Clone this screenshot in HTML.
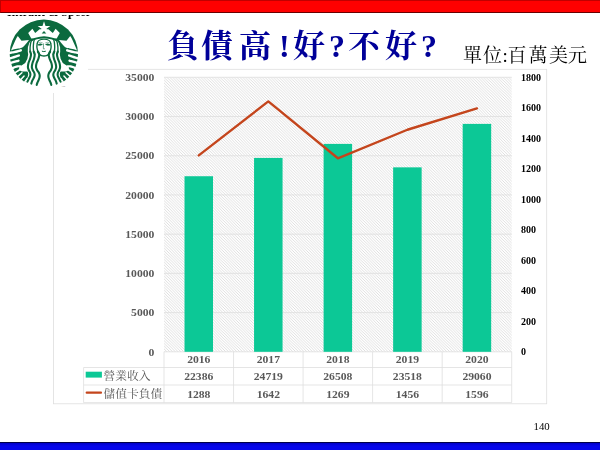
<!DOCTYPE html>
<html><head><meta charset="utf-8"><title>slide</title>
<style>
html,body{margin:0;padding:0;background:#fff;}
body{width:600px;height:450px;overflow:hidden;position:relative;font-family:"Liberation Serif",serif;}
#top{position:absolute;left:0;top:0;width:600px;height:12.6px;background:#fe0000;box-sizing:border-box;border-top:1.2px solid #c00000;border-bottom:1.2px solid #6a0000;border-left:0.6px solid #c00000;}
#bot{position:absolute;left:0;top:441.7px;width:600px;height:9px;background:linear-gradient(#0000c8,#0606ea 3px,#0606ea);box-sizing:border-box;border-top:1.5px solid #000048;}
#clip{position:absolute;left:0;top:14.8px;width:100px;height:6px;overflow:hidden;}
#clip span{position:absolute;left:7px;top:-9.8px;font:bold 12px "Liberation Serif",serif;color:#000;white-space:nowrap;letter-spacing:0.1px;}
svg text{font-family:"Liberation Serif",serif;}
#main{position:absolute;left:0;top:0;will-change:transform;}
#logobg{position:absolute;left:0;top:17px;width:87.6px;height:76px;background:#fff;}
</style></head><body>
<svg id="main" width="600" height="450" viewBox="0 0 600 450">
<rect x="53.4" y="69.3" width="493.30000000000007" height="334.5" fill="#fff" stroke="#dedede" stroke-width="0.8"/>
<defs><pattern id="h" width="2.8" height="2.8" patternUnits="userSpaceOnUse"><rect width="2.8" height="2.8" fill="#fff"/><path d="M-0.7,-0.7 L3.5,3.5 M-0.7,2.1 L0.7,3.5 M2.1,-0.7 L3.5,0.7" stroke="#dcdcdc" stroke-width="0.9"/></pattern></defs>
<rect x="164.0" y="77.3" width="347.7" height="274.5" fill="url(#h)"/>
<line x1="164.0" x2="511.7" y1="351.80" y2="351.80" stroke="#dedede" stroke-width="0.8"/>
<line x1="164.0" x2="511.7" y1="312.59" y2="312.59" stroke="#dedede" stroke-width="0.8"/>
<line x1="164.0" x2="511.7" y1="273.37" y2="273.37" stroke="#dedede" stroke-width="0.8"/>
<line x1="164.0" x2="511.7" y1="234.16" y2="234.16" stroke="#dedede" stroke-width="0.8"/>
<line x1="164.0" x2="511.7" y1="194.94" y2="194.94" stroke="#dedede" stroke-width="0.8"/>
<line x1="164.0" x2="511.7" y1="155.73" y2="155.73" stroke="#dedede" stroke-width="0.8"/>
<line x1="164.0" x2="511.7" y1="116.51" y2="116.51" stroke="#dedede" stroke-width="0.8"/>
<line x1="164.0" x2="511.7" y1="77.30" y2="77.30" stroke="#dedede" stroke-width="0.8"/>
<rect x="184.52" y="176.23" width="28.5" height="175.57" fill="#0cc896"/>
<rect x="254.06" y="157.93" width="28.5" height="193.87" fill="#0cc896"/>
<rect x="323.60" y="143.90" width="28.5" height="207.90" fill="#0cc896"/>
<rect x="393.14" y="167.35" width="28.5" height="184.45" fill="#0cc896"/>
<rect x="462.68" y="123.89" width="28.5" height="227.91" fill="#0cc896"/>
<polyline points="198.77,155.38 268.31,101.40 337.85,158.28 407.39,129.76 476.93,108.41" fill="none" stroke="#c4451c" stroke-width="2.4" stroke-linejoin="round" stroke-linecap="round"/>
<line x1="83.6" x2="511.7" y1="367.5" y2="367.5" stroke="#dedede" stroke-width="0.8"/>
<line x1="83.6" x2="511.7" y1="385.0" y2="385.0" stroke="#dedede" stroke-width="0.8"/>
<line x1="83.6" x2="511.7" y1="402.6" y2="402.6" stroke="#dedede" stroke-width="0.8"/>
<line x1="83.6" x2="83.6" y1="367.5" y2="402.6" stroke="#dedede" stroke-width="0.8"/>
<line x1="164.00" x2="164.00" y1="351.8" y2="402.6" stroke="#dedede" stroke-width="0.8"/>
<line x1="233.54" x2="233.54" y1="351.8" y2="402.6" stroke="#dedede" stroke-width="0.8"/>
<line x1="303.08" x2="303.08" y1="351.8" y2="402.6" stroke="#dedede" stroke-width="0.8"/>
<line x1="372.62" x2="372.62" y1="351.8" y2="402.6" stroke="#dedede" stroke-width="0.8"/>
<line x1="442.16" x2="442.16" y1="351.8" y2="402.6" stroke="#dedede" stroke-width="0.8"/>
<line x1="511.70" x2="511.70" y1="351.8" y2="402.6" stroke="#dedede" stroke-width="0.8"/>
<rect x="85.7" y="371.7" width="16.2" height="5.9" fill="#0cc896"/>
<line x1="86.7" x2="101.0" y1="392.7" y2="392.7" stroke="#c4451c" stroke-width="2.2" stroke-linecap="round"/>
<text transform="translate(154.4 355.55) scale(1.08 1)" font-size="10.8" fill="#595959" text-anchor="end" font-weight="bold">0</text>
<text transform="translate(154.4 316.34) scale(1.08 1)" font-size="10.8" fill="#595959" text-anchor="end" font-weight="bold">5000</text>
<text transform="translate(154.4 277.12) scale(1.08 1)" font-size="10.8" fill="#595959" text-anchor="end" font-weight="bold">10000</text>
<text transform="translate(154.4 237.91) scale(1.08 1)" font-size="10.8" fill="#595959" text-anchor="end" font-weight="bold">15000</text>
<text transform="translate(154.4 198.69) scale(1.08 1)" font-size="10.8" fill="#595959" text-anchor="end" font-weight="bold">20000</text>
<text transform="translate(154.4 159.48) scale(1.08 1)" font-size="10.8" fill="#595959" text-anchor="end" font-weight="bold">25000</text>
<text transform="translate(154.4 120.26) scale(1.08 1)" font-size="10.8" fill="#595959" text-anchor="end" font-weight="bold">30000</text>
<text transform="translate(154.4 81.05) scale(1.08 1)" font-size="10.8" fill="#595959" text-anchor="end" font-weight="bold">35000</text>
<text x="521" y="355.4" font-size="10" fill="#000" text-anchor="start" font-weight="bold">0</text>
<text x="521" y="324.9" font-size="10" fill="#000" text-anchor="start" font-weight="bold">200</text>
<text x="521" y="294.4" font-size="10" fill="#000" text-anchor="start" font-weight="bold">400</text>
<text x="521" y="263.9" font-size="10" fill="#000" text-anchor="start" font-weight="bold">600</text>
<text x="521" y="233.4" font-size="10" fill="#000" text-anchor="start" font-weight="bold">800</text>
<text x="521" y="202.9" font-size="10" fill="#000" text-anchor="start" font-weight="bold">1000</text>
<text x="521" y="172.4" font-size="10" fill="#000" text-anchor="start" font-weight="bold">1200</text>
<text x="521" y="141.9" font-size="10" fill="#000" text-anchor="start" font-weight="bold">1400</text>
<text x="521" y="111.4" font-size="10" fill="#000" text-anchor="start" font-weight="bold">1600</text>
<text x="521" y="80.9" font-size="10" fill="#000" text-anchor="start" font-weight="bold">1800</text>
<text transform="translate(198.77 363.1) scale(1.1 1)" font-size="10.6" fill="#595959" text-anchor="middle" font-weight="bold">2016</text>
<text transform="translate(198.77 380.1) scale(1.1 1)" font-size="10.6" fill="#595959" text-anchor="middle" font-weight="bold">22386</text>
<text transform="translate(198.77 397.5) scale(1.1 1)" font-size="10.6" fill="#595959" text-anchor="middle" font-weight="bold">1288</text>
<text transform="translate(268.31 363.1) scale(1.1 1)" font-size="10.6" fill="#595959" text-anchor="middle" font-weight="bold">2017</text>
<text transform="translate(268.31 380.1) scale(1.1 1)" font-size="10.6" fill="#595959" text-anchor="middle" font-weight="bold">24719</text>
<text transform="translate(268.31 397.5) scale(1.1 1)" font-size="10.6" fill="#595959" text-anchor="middle" font-weight="bold">1642</text>
<text transform="translate(337.85 363.1) scale(1.1 1)" font-size="10.6" fill="#595959" text-anchor="middle" font-weight="bold">2018</text>
<text transform="translate(337.85 380.1) scale(1.1 1)" font-size="10.6" fill="#595959" text-anchor="middle" font-weight="bold">26508</text>
<text transform="translate(337.85 397.5) scale(1.1 1)" font-size="10.6" fill="#595959" text-anchor="middle" font-weight="bold">1269</text>
<text transform="translate(407.39 363.1) scale(1.1 1)" font-size="10.6" fill="#595959" text-anchor="middle" font-weight="bold">2019</text>
<text transform="translate(407.39 380.1) scale(1.1 1)" font-size="10.6" fill="#595959" text-anchor="middle" font-weight="bold">23518</text>
<text transform="translate(407.39 397.5) scale(1.1 1)" font-size="10.6" fill="#595959" text-anchor="middle" font-weight="bold">1456</text>
<text transform="translate(476.93 363.1) scale(1.1 1)" font-size="10.6" fill="#595959" text-anchor="middle" font-weight="bold">2020</text>
<text transform="translate(476.93 380.1) scale(1.1 1)" font-size="10.6" fill="#595959" text-anchor="middle" font-weight="bold">29060</text>
<text transform="translate(476.93 397.5) scale(1.1 1)" font-size="10.6" fill="#595959" text-anchor="middle" font-weight="bold">1596</text>
<text x="533.5" y="429.6" font-size="10.8" fill="#000" text-anchor="start" font-weight="normal">140</text>
<text x="103.4" y="380.0" font-size="11.75" fill="#595959" style="font-family:'Liberation Serif','Noto Serif CJK SC',serif">營業收入</text>
<text x="103.4" y="397.6" font-size="11.75" fill="#595959" style="font-family:'Liberation Serif','Noto Serif CJK SC',serif">儲值卡負債</text>
<text y="57" font-size="32" font-weight="bold" fill="#000099" x="167 201 239 279 293 329 348 385 421" style="font-family:'Liberation Serif','Noto Serif CJK SC',serif">負債高!好?不好?</text>
<text y="61.5" font-size="19" fill="#000" x="463 483 502.5 507.5 528.5 549 568" style="font-family:'Liberation Serif','Noto Serif CJK SC',serif">單位:百萬美元</text>
</svg>
<div id="logobg"></div>
<svg id="logo" width="600" height="450" viewBox="0 0 600 450" style="position:absolute;left:0;top:0">
<circle cx="43.85" cy="53.8" r="34.2" fill="#0b6a3e"/>
<g>
<path d="M44.00,38.50 L40.00,38.80 L37.00,39.30 L35.00,39.80 L33.00,40.40 L30.40,41.20 L29.30,42.90 L27.90,47.30 L27.80,51.80 L28.20,54.20 L27.40,58.70 L25.20,63.00 L21.50,65.60 L19.00,67.80 L19.40,70.30 L22.00,71.50 L25.00,71.40 L27.20,71.60 L28.00,72.60 L28.20,74.70 L27.60,76.90 L26.50,79.10 L25.40,81.30 L24.40,83.40 L24.00,86.00 L30.00,89.00 L44.00,89.00 L44.00,89.00 L58.00,89.00 L64.00,86.00 L63.60,83.40 L62.60,81.30 L61.50,79.10 L60.40,76.90 L59.80,74.70 L60.00,72.60 L60.80,71.60 L63.00,71.40 L66.00,71.50 L68.60,70.30 L69.00,67.80 L66.50,65.60 L62.80,63.00 L60.60,58.70 L59.80,54.20 L60.20,51.80 L60.10,47.30 L58.70,42.90 L57.60,41.20 L55.00,40.40 L53.00,39.80 L51.00,39.30 L48.00,38.80 L44.00,38.50Z" fill="#ffffff"/>
<path d="M28.20,33.00 L32.40,28.80 L35.20,32.90 L39.60,29.20 L41.50,29.20 L46.50,29.20 L48.40,29.20 L52.80,32.90 L55.60,28.80 L59.80,33.00 L56.70,38.50 L54.50,38.30 L51.50,37.60 L48.00,36.70 L44.00,36.20 L40.00,36.70 L36.50,37.60 L33.50,38.30 L31.30,38.50Z" fill="#ffffff"/>
<path d="M44.00,21.30 L45.53,25.90 L50.37,25.93 L46.47,28.80 L47.94,33.42 L44.00,30.60 L40.06,33.42 L41.53,28.80 L37.63,25.93 L42.47,25.90Z" fill="#ffffff"/>
<path d="M44.00,31.00 L41.70,33.40 L46.30,33.40Z" fill="#0b6a3e"/>
<path d="M37.80,51.80 C38.05,52.20 38.67,53.57 39.30,54.20 C39.93,54.83 40.82,55.31 41.60,55.60 C42.38,55.89 43.20,55.95 44.00,55.95 C44.80,55.95 45.62,55.89 46.40,55.60 C47.18,55.31 48.07,54.83 48.70,54.20 C49.33,53.57 49.95,52.20 50.20,51.80" fill="none" stroke="#0b6a3e" stroke-width="1.5"/>
<path d="M37.2,43.6 C37.4,40.6 40,39.2 44.0,39.2 C48,39.2 50.6,40.6 50.8,43.6" fill="none" stroke="#0b6a3e" stroke-width="1.1"/>
<g><path d="M32.30,40.00 C32.15,40.15 31.67,40.42 31.40,40.90 C31.13,41.38 30.92,41.83 30.70,42.90 C30.48,43.97 30.18,45.87 30.10,47.30 C30.02,48.73 30.05,50.32 30.20,51.50 C30.35,52.68 30.87,53.92 31.00,54.40" fill="none" stroke="#0b6a3e" stroke-width="1.35" stroke-linecap="round"/><path d="M30.20,51.50 C30.33,51.98 31.00,53.23 31.00,54.40 C31.00,55.57 30.62,57.07 30.20,58.50 C29.78,59.93 28.88,61.58 28.50,63.00 C28.12,64.42 27.87,65.83 27.90,67.00 C27.93,68.17 28.35,69.10 28.70,70.00 C29.05,70.90 29.72,71.62 30.00,72.40 C30.28,73.18 30.43,73.95 30.40,74.70 C30.37,75.45 30.08,76.17 29.80,76.90 C29.52,77.63 29.05,78.42 28.70,79.10 C28.35,79.78 27.92,80.57 27.70,81.00 C27.48,81.43 27.45,81.58 27.40,81.70" fill="none" stroke="#0b6a3e" stroke-width="2.1" stroke-linecap="round"/><path d="M34.80,39.20 C34.67,39.45 34.20,40.08 34.00,40.70 C33.80,41.32 33.72,41.80 33.60,42.90 C33.48,44.00 33.28,45.87 33.30,47.30 C33.32,48.73 33.47,50.32 33.70,51.50 C33.93,52.68 34.53,53.92 34.70,54.40" fill="none" stroke="#0b6a3e" stroke-width="1.35" stroke-linecap="round"/><path d="M33.70,51.50 C33.87,51.98 34.63,53.23 34.70,54.40 C34.77,55.57 34.47,57.07 34.10,58.50 C33.73,59.93 32.88,61.58 32.50,63.00 C32.12,64.42 31.77,65.83 31.80,67.00 C31.83,68.17 32.32,69.10 32.70,70.00 C33.08,70.90 33.77,71.62 34.10,72.40 C34.43,73.18 34.68,73.95 34.70,74.70 C34.72,75.45 34.47,76.17 34.20,76.90 C33.93,77.63 33.47,78.37 33.10,79.10 C32.73,79.83 32.28,80.62 32.00,81.30 C31.72,81.98 31.52,82.82 31.40,83.20 C31.28,83.58 31.32,83.53 31.30,83.60" fill="none" stroke="#0b6a3e" stroke-width="2.1" stroke-linecap="round"/><path d="M37.25,43.20 C37.19,43.88 36.79,45.92 36.90,47.30 C37.01,48.68 37.50,50.30 37.90,51.50 C38.30,52.70 39.07,54.00 39.30,54.50" fill="none" stroke="#0b6a3e" stroke-width="1.35" stroke-linecap="round"/><path d="M37.90,51.50 C38.13,52.00 39.20,53.33 39.30,54.50 C39.40,55.67 38.95,57.08 38.50,58.50 C38.05,59.92 37.02,61.58 36.60,63.00 C36.18,64.42 35.90,65.78 36.00,67.00 C36.10,68.22 36.70,69.30 37.20,70.30 C37.70,71.30 38.58,72.13 39.00,73.00 C39.42,73.87 39.63,74.67 39.70,75.50 C39.77,76.33 39.62,77.17 39.40,78.00 C39.18,78.83 38.75,79.67 38.40,80.50 C38.05,81.33 37.58,82.27 37.30,83.00 C37.02,83.73 36.80,84.58 36.70,84.90" fill="none" stroke="#0b6a3e" stroke-width="2.1" stroke-linecap="round"/><path d="M17.8,35.9 L21.5,40.7 L29,40.1 C27.5,42 26.3,43.6 25,44.9 C24,46 23.2,46.9 22.3,47.6 C20.5,48.6 18.5,48.6 17,48.7 C15,48.9 13.2,49.3 11.1,50.5 C11.3,49.5 11.7,48.5 12.2,47.6 C12.8,46 13.5,44.4 14.3,42.8 C15,41.2 15.8,39.5 16.5,38 Z" fill="#ffffff"/><path d="M7.50,53.40 C8.32,53.23 10.83,52.72 12.40,52.40 C13.97,52.08 15.50,51.85 16.90,51.50 C18.30,51.15 20.15,50.50 20.80,50.30" fill="none" stroke="#ffffff" stroke-width="2.4" stroke-linecap="round"/><path d="M7.50,58.80 C8.32,58.60 10.83,58.05 12.40,57.60 C13.97,57.15 15.82,56.45 16.90,56.10 C17.98,55.75 18.57,55.60 18.90,55.50" fill="none" stroke="#ffffff" stroke-width="2.3" stroke-linecap="round"/><path d="M8.00,63.60 C8.73,63.40 10.92,62.80 12.40,62.40 C13.88,62.00 15.88,61.48 16.90,61.20 C17.92,60.92 18.23,60.78 18.50,60.70" fill="none" stroke="#ffffff" stroke-width="2.3" stroke-linecap="round"/><path d="M9.50,69.00 C10.22,68.77 12.47,68.05 13.80,67.60 C15.13,67.15 16.38,66.50 17.50,66.30 C18.62,66.10 20.00,66.38 20.50,66.40" fill="none" stroke="#ffffff" stroke-width="2.2" stroke-linecap="round"/><path d="M14.43,73.13 L20.45,69.17" fill="none" stroke="#ffffff" stroke-width="1.7" stroke-linecap="round"/><path d="M17.24,76.85 L21.93,72.79" fill="none" stroke="#ffffff" stroke-width="1.5" stroke-linecap="round"/><path d="M20.43,80.08 L24.09,75.98" fill="none" stroke="#ffffff" stroke-width="1.4" stroke-linecap="round"/><path d="M24.01,82.88 L26.83,78.75" fill="none" stroke="#ffffff" stroke-width="1.3" stroke-linecap="round"/></g>
<g transform="translate(88.0 0) scale(-1 1)"><path d="M32.30,40.00 C32.15,40.15 31.67,40.42 31.40,40.90 C31.13,41.38 30.92,41.83 30.70,42.90 C30.48,43.97 30.18,45.87 30.10,47.30 C30.02,48.73 30.05,50.32 30.20,51.50 C30.35,52.68 30.87,53.92 31.00,54.40" fill="none" stroke="#0b6a3e" stroke-width="1.35" stroke-linecap="round"/><path d="M30.20,51.50 C30.33,51.98 31.00,53.23 31.00,54.40 C31.00,55.57 30.62,57.07 30.20,58.50 C29.78,59.93 28.88,61.58 28.50,63.00 C28.12,64.42 27.87,65.83 27.90,67.00 C27.93,68.17 28.35,69.10 28.70,70.00 C29.05,70.90 29.72,71.62 30.00,72.40 C30.28,73.18 30.43,73.95 30.40,74.70 C30.37,75.45 30.08,76.17 29.80,76.90 C29.52,77.63 29.05,78.42 28.70,79.10 C28.35,79.78 27.92,80.57 27.70,81.00 C27.48,81.43 27.45,81.58 27.40,81.70" fill="none" stroke="#0b6a3e" stroke-width="2.1" stroke-linecap="round"/><path d="M34.80,39.20 C34.67,39.45 34.20,40.08 34.00,40.70 C33.80,41.32 33.72,41.80 33.60,42.90 C33.48,44.00 33.28,45.87 33.30,47.30 C33.32,48.73 33.47,50.32 33.70,51.50 C33.93,52.68 34.53,53.92 34.70,54.40" fill="none" stroke="#0b6a3e" stroke-width="1.35" stroke-linecap="round"/><path d="M33.70,51.50 C33.87,51.98 34.63,53.23 34.70,54.40 C34.77,55.57 34.47,57.07 34.10,58.50 C33.73,59.93 32.88,61.58 32.50,63.00 C32.12,64.42 31.77,65.83 31.80,67.00 C31.83,68.17 32.32,69.10 32.70,70.00 C33.08,70.90 33.77,71.62 34.10,72.40 C34.43,73.18 34.68,73.95 34.70,74.70 C34.72,75.45 34.47,76.17 34.20,76.90 C33.93,77.63 33.47,78.37 33.10,79.10 C32.73,79.83 32.28,80.62 32.00,81.30 C31.72,81.98 31.52,82.82 31.40,83.20 C31.28,83.58 31.32,83.53 31.30,83.60" fill="none" stroke="#0b6a3e" stroke-width="2.1" stroke-linecap="round"/><path d="M37.25,43.20 C37.19,43.88 36.79,45.92 36.90,47.30 C37.01,48.68 37.50,50.30 37.90,51.50 C38.30,52.70 39.07,54.00 39.30,54.50" fill="none" stroke="#0b6a3e" stroke-width="1.35" stroke-linecap="round"/><path d="M37.90,51.50 C38.13,52.00 39.20,53.33 39.30,54.50 C39.40,55.67 38.95,57.08 38.50,58.50 C38.05,59.92 37.02,61.58 36.60,63.00 C36.18,64.42 35.90,65.78 36.00,67.00 C36.10,68.22 36.70,69.30 37.20,70.30 C37.70,71.30 38.58,72.13 39.00,73.00 C39.42,73.87 39.63,74.67 39.70,75.50 C39.77,76.33 39.62,77.17 39.40,78.00 C39.18,78.83 38.75,79.67 38.40,80.50 C38.05,81.33 37.58,82.27 37.30,83.00 C37.02,83.73 36.80,84.58 36.70,84.90" fill="none" stroke="#0b6a3e" stroke-width="2.1" stroke-linecap="round"/><path d="M17.8,35.9 L21.5,40.7 L29,40.1 C27.5,42 26.3,43.6 25,44.9 C24,46 23.2,46.9 22.3,47.6 C20.5,48.6 18.5,48.6 17,48.7 C15,48.9 13.2,49.3 11.1,50.5 C11.3,49.5 11.7,48.5 12.2,47.6 C12.8,46 13.5,44.4 14.3,42.8 C15,41.2 15.8,39.5 16.5,38 Z" fill="#ffffff"/><path d="M7.50,53.40 C8.32,53.23 10.83,52.72 12.40,52.40 C13.97,52.08 15.50,51.85 16.90,51.50 C18.30,51.15 20.15,50.50 20.80,50.30" fill="none" stroke="#ffffff" stroke-width="2.4" stroke-linecap="round"/><path d="M7.50,58.80 C8.32,58.60 10.83,58.05 12.40,57.60 C13.97,57.15 15.82,56.45 16.90,56.10 C17.98,55.75 18.57,55.60 18.90,55.50" fill="none" stroke="#ffffff" stroke-width="2.3" stroke-linecap="round"/><path d="M8.00,63.60 C8.73,63.40 10.92,62.80 12.40,62.40 C13.88,62.00 15.88,61.48 16.90,61.20 C17.92,60.92 18.23,60.78 18.50,60.70" fill="none" stroke="#ffffff" stroke-width="2.3" stroke-linecap="round"/><path d="M9.50,69.00 C10.22,68.77 12.47,68.05 13.80,67.60 C15.13,67.15 16.38,66.50 17.50,66.30 C18.62,66.10 20.00,66.38 20.50,66.40" fill="none" stroke="#ffffff" stroke-width="2.2" stroke-linecap="round"/><path d="M14.43,73.13 L20.45,69.17" fill="none" stroke="#ffffff" stroke-width="1.7" stroke-linecap="round"/><path d="M17.24,76.85 L21.93,72.79" fill="none" stroke="#ffffff" stroke-width="1.5" stroke-linecap="round"/><path d="M20.43,80.08 L24.09,75.98" fill="none" stroke="#ffffff" stroke-width="1.4" stroke-linecap="round"/><path d="M24.01,82.88 L26.83,78.75" fill="none" stroke="#ffffff" stroke-width="1.3" stroke-linecap="round"/></g>
<path d="M37.9,44.9 Q40.1,43.1 42.4,44.4 Q40.2,45.8 37.9,44.9Z" fill="#0b6a3e" stroke="#0b6a3e" stroke-width="0.7"/>
<path d="M45.6,44.4 Q47.9,43.1 50.1,44.9 Q47.8,45.8 45.6,44.4Z" fill="#0b6a3e" stroke="#0b6a3e" stroke-width="0.7"/>
<path d="M38.2,42.8 Q40.2,41.9 42.6,42.7" stroke="#0b6a3e" stroke-width="0.5" fill="none" opacity="0.8"/>
<path d="M45.4,42.7 Q47.8,41.9 49.8,42.8" stroke="#0b6a3e" stroke-width="0.5" fill="none" opacity="0.8"/>
<path d="M43.6,43.4 L43.3,48.3 M43.0,48.7 L44.8,48.8" stroke="#0b6a3e" stroke-width="0.6" fill="none"/>
<path d="M41.9,51.2 Q43.8,52.0 45.8,51.2" stroke="#0b6a3e" stroke-width="1.0" fill="none"/>
</g>
<text x="61.6" y="86.6" font-size="2.4" fill="#777" font-family="Liberation Sans, sans-serif">TM</text>
</svg>
<div id="clip"><span>Intrant &amp; Speer</span></div>
<div id="top"></div>
<div id="bot"></div>
</body></html>
